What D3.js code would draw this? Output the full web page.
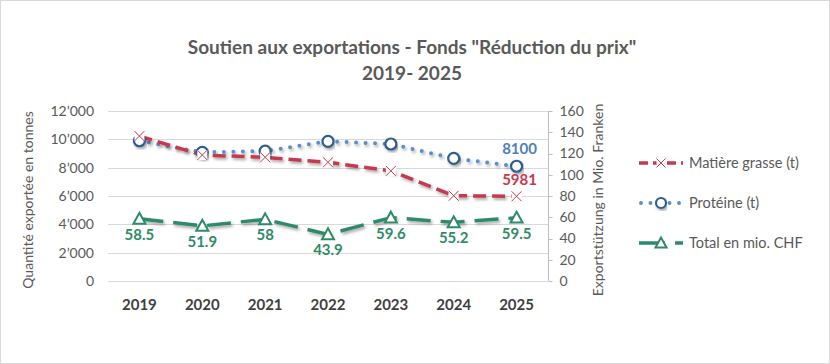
<!DOCTYPE html>
<html>
<head>
<meta charset="utf-8">
<script src="https://cdn.jsdelivr.net/npm/d3@7"></script>
<style>
  body { margin: 0; background: #fff; }
  #canvas { width: 830px; height: 364px; }
  text { font-family: Lato, "Open Sans", sans-serif; }
</style>
</head>
<body>
<div id="canvas"></div>
<script>
// data
var years = ["2019", "2020", "2021", "2022", "2023", "2024", "2025"];
var fat = [10230, 8890, 8730, 8380, 7770, 6020, 5981];       // Matière grasse (t)
var protein = [9900, 9080, 9170, 9860, 9670, 8660, 8100];    // Protéine (t)
var total = [58.5, 51.9, 58, 43.9, 59.6, 55.2, 59.5];        // Total en mio. CHF
var leftTicks = [0, 2000, 4000, 6000, 8000, 10000, 12000];
var rightTicks = [0, 20, 40, 60, 80, 100, 120, 140, 160];

var width = 830, height = 364;
var pLeft = 108, pRight = 548, pTop = 111, pBottom = 281;
var red = "#C43A4F", blue = "#4F81BD", green = "#2F8A68", grey = "#595959";

var svg = d3.select("#canvas").append("svg")
    .attr("width", width)
    .attr("height", height);

// shadow for the lines
var defs = svg.append("defs");
var f = defs.append("filter").attr("id", "shadow")
    .attr("x", "-10%").attr("y", "-30%").attr("width", "120%").attr("height", "160%");
f.append("feDropShadow").attr("dx", 1.5).attr("dy", 2).attr("stdDeviation", 1.5)
    .attr("flood-color", "#000").attr("flood-opacity", 0.35);

svg.append("rect")
    .attr("x", 0.5).attr("y", 0.5)
    .attr("width", width - 1).attr("height", height - 1)
    .attr("fill", "#fff").attr("stroke", "#d9d9d9");

var x = d3.scaleBand().domain(years).range([pLeft, pRight]);
var y = d3.scaleLinear().domain([0, 12000]).range([pBottom, pTop]);
var y2 = d3.scaleLinear().domain([0, 160]).range([pBottom, pTop]);
var cx = function(i) { return x(years[i]) + x.bandwidth() / 2; };

// gridlines
svg.append("g").selectAll("line")
    .data(leftTicks)
    .enter().append("line")
    .attr("x1", pLeft).attr("x2", pRight)
    .attr("y1", function(d) { return Math.round(y(d)) + 0.5; })
    .attr("y2", function(d) { return Math.round(y(d)) + 0.5; })
    .attr("stroke", "#d9d9d9");

// left axis labels
var fmt = function(d) { return d3.format(",")(d).replace(/,/g, "\u2019"); };
svg.append("g").selectAll("text")
    .data(leftTicks)
    .enter().append("text")
    .attr("x", 94).attr("y", function(d) { return y(d); })
    .attr("dy", "0.35em")
    .attr("text-anchor", "end")
    .attr("font-size", 14)
    .attr("fill", grey)
    .text(fmt);

// right axis
var ra = svg.append("g").attr("transform", "translate(" + (pRight + 0.5) + ",0)");
ra.append("line").attr("y1", pTop).attr("y2", pBottom).attr("stroke", "#bfbfbf");
ra.selectAll(".tk").data(rightTicks).enter().append("line")
    .attr("x1", 0).attr("x2", 4)
    .attr("y1", function(d) { return Math.round(y2(d)) + 0.5; })
    .attr("y2", function(d) { return Math.round(y2(d)) + 0.5; })
    .attr("stroke", "#bfbfbf");
ra.selectAll("text").data(rightTicks).enter().append("text")
    .attr("x", 11).attr("y", function(d) { return y2(d); })
    .attr("dy", "0.35em")
    .attr("font-size", 14)
    .attr("fill", grey)
    .text(function(d) { return d; });

// year labels
svg.append("g").selectAll("text")
    .data(years)
    .enter().append("text")
    .attr("x", function(d, i) { return cx(i); })
    .attr("y", 310)
    .attr("text-anchor", "middle")
    .attr("font-size", 15)
    .attr("font-weight", "bold")
    .attr("fill", "#404040")
    .text(function(d) { return d; });

// title
svg.append("text")
    .attr("x", 412).attr("y", 54)
    .attr("text-anchor", "middle")
    .attr("font-size", 19).attr("font-weight", "bold").attr("fill", grey)
    .text("Soutien aux exportations - Fonds \"R\u00e9duction du prix\"");
svg.append("text")
    .attr("x", 412).attr("y", 80)
    .attr("text-anchor", "middle")
    .attr("font-size", 19).attr("font-weight", "bold").attr("fill", grey)
    .text("2019- 2025");

// axis titles
svg.append("text")
    .attr("transform", "translate(33,200) rotate(-90)")
    .attr("text-anchor", "middle")
    .attr("font-size", 14).attr("fill", grey)
    .text("Quantit\u00e9 export\u00e9e en tonnes");
svg.append("text")
    .attr("transform", "translate(603,200) rotate(-90)")
    .attr("text-anchor", "middle")
    .attr("font-size", 14).attr("fill", grey)
    .text("Exportst\u00fctzung in Mio. Franken");

// lines
var lineL = d3.line().x(function(d, i) { return cx(i); }).y(function(d) { return y(d); });
var lineR = d3.line().x(function(d, i) { return cx(i); }).y(function(d) { return y2(d); });

svg.append("path").datum(total)
    .attr("d", lineR).attr("fill", "none")
    .attr("stroke", green).attr("stroke-width", 3.5)
    .attr("stroke-dasharray", "24,10")
    .attr("filter", "url(#shadow)");
svg.append("path").datum(protein)
    .attr("d", lineL).attr("fill", "none")
    .attr("stroke", "#5B8FC9").attr("stroke-width", 4)
    .attr("stroke-linecap", "round")
    .attr("stroke-dasharray", "0,9.5")
    .attr("filter", "url(#shadow)");
svg.append("path").datum(fat)
    .attr("d", lineL).attr("fill", "none")
    .attr("stroke", red).attr("stroke-width", 3.5)
    .attr("stroke-dasharray", "13,6")
    .attr("filter", "url(#shadow)");

// markers
function cross(g, px, py, s) {
    g.append("rect").attr("x", px - s).attr("y", py - s)
        .attr("width", 2 * s).attr("height", 2 * s).attr("fill", "#fff");
    g.append("path")
        .attr("d", "M" + (px - s) + "," + (py - s) + "L" + (px + s) + "," + (py + s) +
                   "M" + (px - s) + "," + (py + s) + "L" + (px + s) + "," + (py - s))
        .attr("stroke", red).attr("stroke-width", 1);
}
function tri(g, px, py, s) {
    g.append("path")
        .attr("d", "M" + px + "," + (py - s) + "L" + (px + s) + "," + (py + s * 0.8) +
                   "L" + (px - s) + "," + (py + s * 0.8) + "Z")
        .attr("fill", "#fff").attr("stroke", green).attr("stroke-width", 2);
}
function circ(g, px, py, r) {
    g.append("circle").attr("cx", px).attr("cy", py).attr("r", r)
        .attr("fill", "#fff").attr("stroke", "#2F5D8C").attr("stroke-width", 2.2)
        .attr("filter", "url(#shadow)");
}

var mk = svg.append("g");
total.forEach(function(d, i) { tri(mk, cx(i), y2(d), 6); });
protein.forEach(function(d, i) { circ(mk, cx(i), y(d), 5.5); });
fat.forEach(function(d, i) { cross(mk, cx(i), y(d), 5); });

// data labels
svg.append("g").selectAll("text")
    .data(total)
    .enter().append("text")
    .attr("x", function(d, i) { return cx(i); })
    .attr("y", function(d) { return y2(d) + 21; })
    .attr("text-anchor", "middle")
    .attr("font-size", 15).attr("font-weight", "bold")
    .attr("fill", green)
    .text(function(d) { return d; });
svg.append("text")
    .attr("x", cx(6) + 3).attr("y", y(protein[6]) - 12)
    .attr("text-anchor", "middle")
    .attr("font-size", 15).attr("font-weight", "bold").attr("fill", blue)
    .text(protein[6]);
svg.append("text")
    .attr("x", cx(6) + 3).attr("y", y(fat[6]) - 11)
    .attr("text-anchor", "middle")
    .attr("font-size", 15).attr("font-weight", "bold").attr("fill", red)
    .text(fat[6]);

// legend
var legend = [
    {name: "Mati\u00e8re grasse (t)", y: 163, kind: "fat"},
    {name: "Prot\u00e9ine (t)", y: 203, kind: "protein"},
    {name: "Total en mio. CHF", y: 243, kind: "total"}
];
var lg = svg.append("g");
legend.forEach(function(l) {
    var x0 = 639, x1 = 683, mid = 661;
    if (l.kind == "fat") {
        lg.append("line").attr("x1", x0).attr("x2", x1).attr("y1", l.y).attr("y2", l.y)
            .attr("stroke", red).attr("stroke-width", 3.5).attr("stroke-dasharray", "9,5");
        cross(lg, mid, l.y, 4.5);
    } else if (l.kind == "protein") {
        lg.append("line").attr("x1", x0 + 2).attr("x2", x1).attr("y1", l.y).attr("y2", l.y)
            .attr("stroke", "#5B8FC9").attr("stroke-width", 4)
            .attr("stroke-linecap", "round").attr("stroke-dasharray", "0,9.5");
        circ(lg, mid, l.y, 5);
    } else {
        lg.append("line").attr("x1", x0).attr("x2", x1).attr("y1", l.y).attr("y2", l.y)
            .attr("stroke", green).attr("stroke-width", 3.5).attr("stroke-dasharray", "26,10");
        tri(lg, mid, l.y, 5.5);
    }
    lg.append("text")
        .attr("x", 689).attr("y", l.y).attr("dy", "0.35em")
        .attr("font-size", 14.5).attr("fill", grey)
        .text(l.name);
});
</script>
</body>
</html>
